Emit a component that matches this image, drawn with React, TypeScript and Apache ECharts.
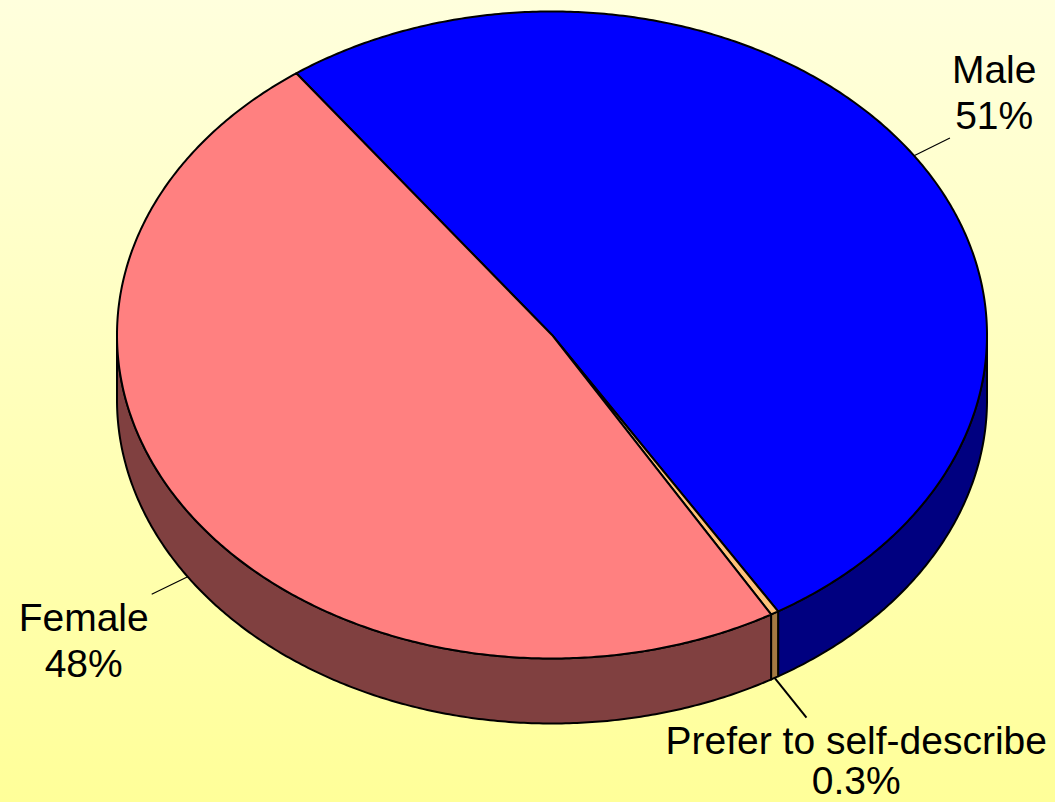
import React, { useEffect, useRef } from 'react';
import * as echarts from 'echarts';

// ---- data ----
const categories: string[] = ['Male', 'Prefer to self-describe', 'Female'];
const percents: number[] = [51.3, 0.3, 48.4];

// ---- styles ----
const topColors: string[] = ['#0000FF', '#FFC27A', '#FF8080'];
const sideColors: string[] = ['#000080', '#A47A42', '#804040'];

const W = 1055;
const H = 802;
const CX = 552;
const CY = 335;
const RX = 435;
const RY = 323.5;
const DEPTH = 65;
const START = 126;
const FONT = '"Liberation Sans", Arial, Helvetica, sans-serif';
const FS = 39;

function pt(deg: number, dy = 0): number[] {
  const r = (deg * Math.PI) / 180;
  return [CX + RX * Math.cos(r), CY - RY * Math.sin(r) + dy];
}
function arcPts(a: number, b: number, dy = 0): number[][] {
  const n = Math.max(2, Math.ceil(Math.abs(b - a) / 0.5));
  const out: number[][] = [];
  for (let i = 0; i <= n; i++) out.push(pt(a + ((b - a) * i) / n, dy));
  return out;
}
function measure(text: string): number {
  const c = document.createElement('canvas').getContext('2d');
  if (!c) return text.length * FS * 0.5;
  c.font = `${FS}px ${FONT}`;
  return c.measureText(text).width;
}
function pctLabel(p: number): string {
  return p < 1 ? `${p.toFixed(1)}%` : `${Math.round(p)}%`;
}

export default function App() {
  const ref = useRef<HTMLDivElement>(null);
  useEffect(() => {
    document.body.style.margin = '0';
    if (!ref.current) return;
    const chart = echarts.init(ref.current, undefined, { renderer: 'svg' });
    const total = percents.reduce((s, v) => s + v, 0);

    const renderItem = (params: any, api: any) => {
      const i = params.dataIndex;
      const v = api.value(0) as number;
      let cum = 0;
      for (let k = 0; k < i; k++) cum += percents[k];
      const a0 = START - (360 * cum) / total;
      const a1 = a0 - (360 * v) / total;
      const children: any[] = [];
      // side walls (front half)
      for (let k = -1; k <= 1; k++) {
        const lo = Math.max(a1, -180 + 360 * k);
        const hi = Math.min(a0, 360 * k);
        if (hi > lo) {
          const pts = [...arcPts(hi, lo, 0), ...arcPts(lo, hi, DEPTH)];
          children.push({
            type: 'polygon',
            shape: { points: pts },
            style: { fill: sideColors[i], stroke: '#000', lineWidth: 2, lineJoin: 'round' },
          });
        }
      }
      // top face
      children.push({
        type: 'polygon',
        shape: { points: [[CX, CY], ...arcPts(a0, a1, 0)] },
        style: { fill: topColors[i], stroke: '#000', lineWidth: 2, lineJoin: 'round' },
      });
      // label
      const mid = (a0 + a1) / 2;
      const mr = (mid * Math.PI) / 180;
      const s = Math.sin(mr);
      const p = pt(mid, s < 0 ? DEPTH : 0);
      let dx = RX * Math.cos(mr);
      let dy = -RY * s;
      const dl = Math.hypot(dx, dy);
      dx /= dl;
      dy /= dl;
      const vertical = Math.abs(dy) > Math.abs(dx);
      const len = vertical ? 51 : 40;
      const ex = p[0] + dx * len;
      const ey = p[1] + dy * len;
      children.push({
        type: 'line',
        shape: { x1: p[0], y1: p[1], x2: ex, y2: ey },
        style: { stroke: '#000', lineWidth: vertical ? 2 : 1.2 },
      });
      const pl = pctLabel(v);
      const text = `${categories[i]}\n${pl}`;
      const half = Math.max(measure(categories[i]), measure(pl)) / 2;
      let tx: number;
      let ty: number;
      let vAlign: string;
      let lh = 46;
      if (vertical) {
        tx = Math.max(ex, W - 8 - half);
        if (dy > 0) {
          ty = ey + 3;
          vAlign = 'top';
          lh = 40;
        } else {
          ty = ey - 2;
          vAlign = 'bottom';
        }
      } else {
        tx = dx > 0 ? ex + 2 + half : ex - 3 - half;
        ty = dy > 0 ? ey : ey + 1;
        vAlign = dy > 0 ? 'top' : 'bottom';
      }
      children.push({
        type: 'text',
        x: tx,
        y: ty,
        style: {
          text,
          fill: '#000',
          fontSize: FS,
          fontFamily: FONT,
          align: 'center',
          verticalAlign: vAlign,
          lineHeight: lh,
        },
      });
      return { type: 'group', children };
    };

    chart.setOption({
      animation: false,
      backgroundColor: {
        type: 'linear',
        x: 0,
        y: 0,
        x2: 0,
        y2: 1,
        colorStops: [
          { offset: 0, color: '#FFFFDD' },
          { offset: 1, color: '#FFFF99' },
        ],
      },
      series: [
        {
          type: 'custom',
          coordinateSystem: 'none',
          silent: true,
          renderItem,
          data: percents.map((v) => [v]),
        },
      ],
    });
    return () => chart.dispose();
  }, []);
  return <div ref={ref} style={{ width: W, height: H }} />;
}
